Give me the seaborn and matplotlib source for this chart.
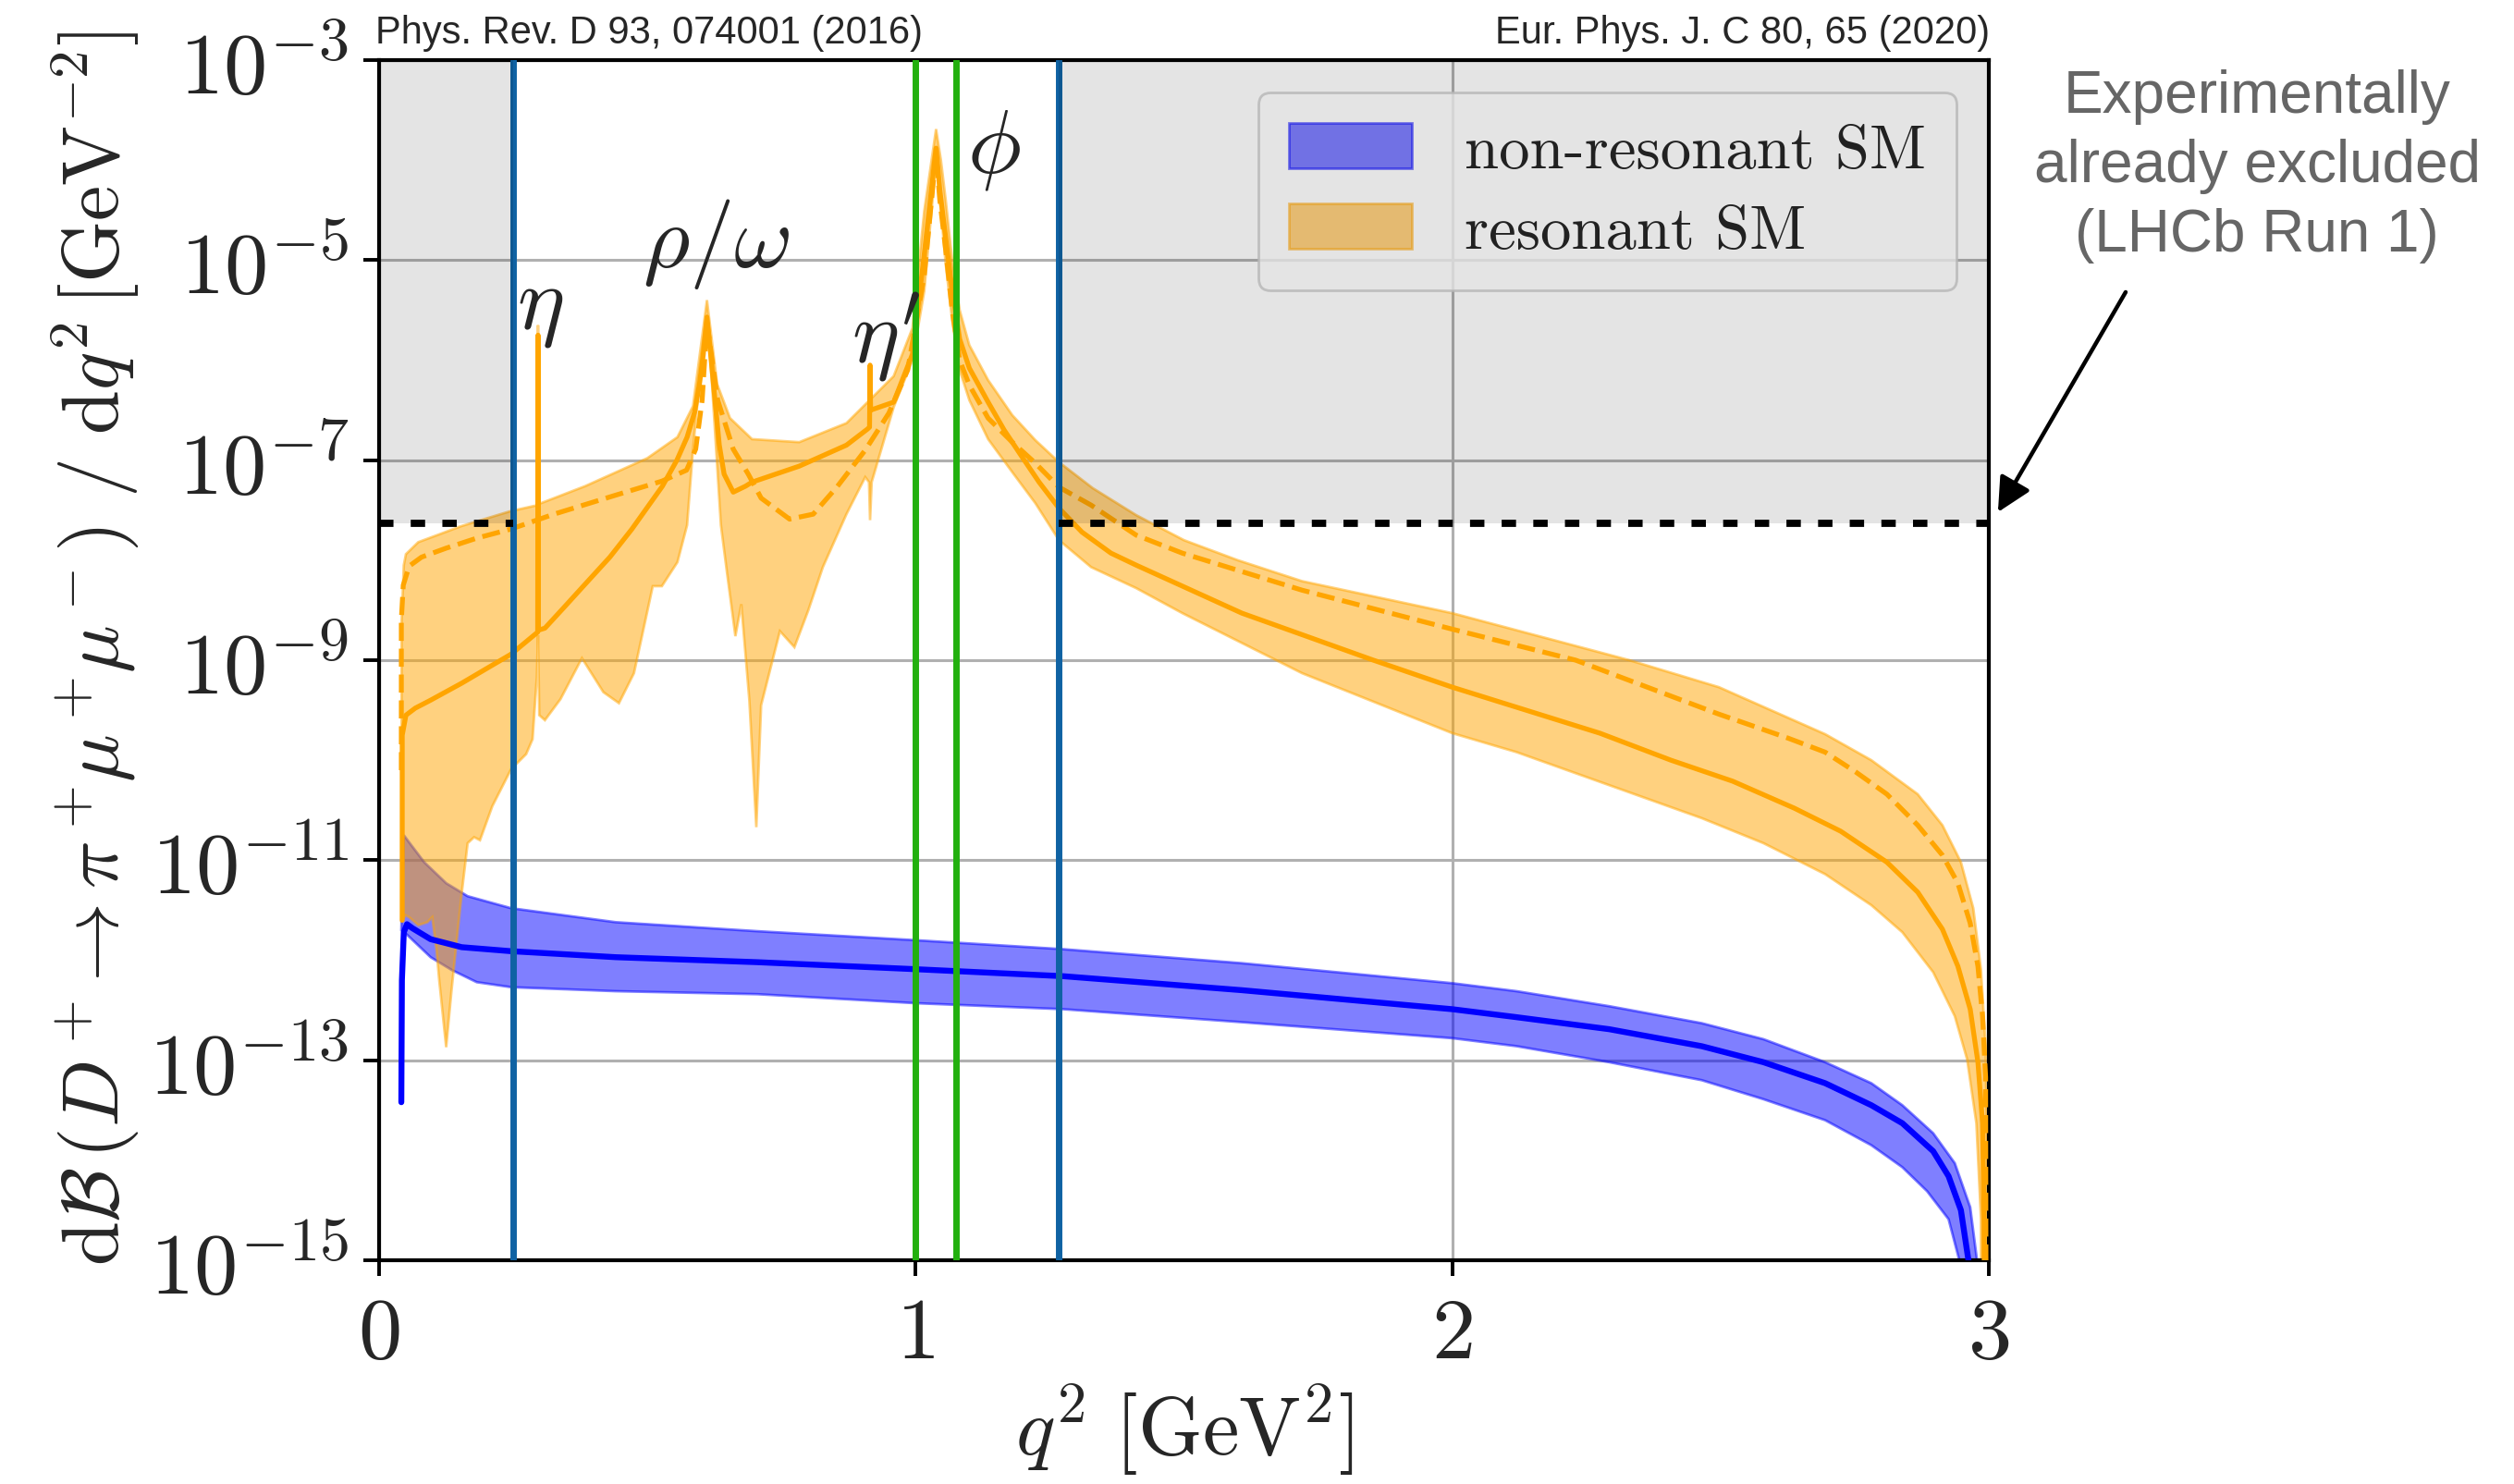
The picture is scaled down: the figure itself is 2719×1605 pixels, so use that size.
import numpy as np
import matplotlib
matplotlib.use("Agg")
import matplotlib.pyplot as plt
from matplotlib.ticker import FixedLocator, FuncFormatter, NullLocator
import seaborn as sns

# ---------------- data ----------------
# resonant SM, central value (solid)
res_x = [0.0431, 0.0431, 0.050, 0.0673, 0.096, 0.154, 0.211, 0.246, 0.291, 0.2955, 0.2962, 0.2970,
         0.309, 0.345, 0.384, 0.430, 0.471, 0.528, 0.555, 0.574, 0.588, 0.597, 0.604, 0.611, 0.618,
         0.626, 0.634, 0.643, 0.660, 0.683, 0.695, 0.783, 0.871, 0.910, 0.9140, 0.9150, 0.9160,
         0.959, 0.994, 1.016, 1.038, 1.045, 1.056, 1.068, 1.082, 1.100, 1.135, 1.165, 1.196, 1.230,
         1.267, 1.310, 1.364, 1.411, 1.608, 1.853, 2.000, 2.275, 2.4075, 2.5225, 2.6375, 2.7238,
         2.810, 2.8675, 2.9135, 2.9423, 2.9653, 2.9797, 2.9883, 2.9912, 2.992]
res_logy = [-11.60, -9.75, -9.55, -9.48, -9.40, -9.23, -9.05, -8.94, -8.74, -8.72, -5.75, -8.70,
            -8.68, -8.47, -8.24, -7.97, -7.69, -7.26, -7.00, -6.77, -6.52, -6.24, -5.95, -5.57, -5.95,
            -6.40, -6.85, -7.14, -7.32, -7.26, -7.22, -7.06, -6.85, -6.69, -6.67, -6.05, -6.50,
            -6.42, -5.94, -4.94, -3.88, -4.30, -4.78, -5.30, -5.79, -6.08, -6.42, -6.70, -6.95, -7.22,
            -7.48, -7.72, -7.93, -8.05, -8.53, -9.00, -9.27, -9.73, -10.00, -10.21, -10.48, -10.71,
            -11.02, -11.32, -11.69, -12.06, -12.49, -13.02, -13.63, -14.59, -16.0]

# resonant SM, alternative (dashed)
res2_x = [0.0414, 0.0414, 0.045, 0.056, 0.079, 0.125, 0.182, 0.245, 0.326, 0.441, 0.527, 0.573,
          0.590, 0.602, 0.611, 0.631, 0.660, 0.688, 0.712, 0.765, 0.809, 0.853, 0.906, 0.950,
          0.985, 1.016, 1.038, 1.045, 1.056, 1.068, 1.082, 1.100, 1.135, 1.180, 1.223, 1.267,
          1.327, 1.411, 1.497, 1.720, 2.000, 2.230, 2.497, 2.626, 2.695, 2.7525, 2.810, 2.8675,
          2.9135, 2.9423, 2.9653, 2.9797, 2.9883, 2.994, 2.995]
res2_logy = [-10.10, -8.60, -8.25, -8.06, -7.97, -7.88, -7.78, -7.69, -7.54, -7.35, -7.21, -7.10,
             -6.89, -6.40, -5.63, -6.40, -6.89, -7.14, -7.38, -7.59, -7.54, -7.27, -6.90, -6.53,
             -6.10, -5.15, -3.93, -4.40, -4.90, -5.50, -6.00, -6.25, -6.58, -6.82, -7.03, -7.27,
             -7.45, -7.75, -7.93, -8.30, -8.69, -9.00, -9.54, -9.78, -9.92, -10.12, -10.34, -10.65,
             -10.95, -11.23, -11.63, -12.06, -12.56, -13.17, -16.0]

# resonant SM band, upper edge
res_up_x = [0.0414, 0.0420, 0.046, 0.050, 0.073, 0.153, 0.245, 0.2955, 0.2962, 0.2970, 0.384, 0.500,
            0.556, 0.585, 0.611, 0.630, 0.654, 0.695, 0.783, 0.871, 0.959, 0.994, 1.016, 1.038,
            1.047, 1.056, 1.068, 1.082, 1.100, 1.135, 1.180, 1.223, 1.267, 1.330, 1.411, 1.500,
            1.600, 1.720, 2.000, 2.330, 2.497, 2.695, 2.781, 2.8675, 2.9135, 2.948, 2.971, 2.9854,
            2.994, 2.9986, 2.999]
res_up_logy = [-11.60, -8.60, -8.05, -7.94, -7.82, -7.66, -7.51, -7.45, -5.65, -7.44, -7.26, -6.98,
               -6.77, -6.46, -5.40, -6.24, -6.58, -6.79, -6.82, -6.63, -6.16, -5.68, -4.51, -3.69,
               -4.00, -4.40, -5.00, -5.50, -5.85, -6.20, -6.55, -6.80, -7.02, -7.28, -7.55, -7.80,
               -8.00, -8.21, -8.53, -9.00, -9.27, -9.74, -10.00, -10.34, -10.65, -11.02, -11.48,
               -12.09, -12.86, -14.59, -16.0]

# resonant SM band, lower edge
res_lo_x = [0.0414, 0.049, 0.056, 0.073, 0.090, 0.099, 0.107, 0.112, 0.125, 0.135, 0.142, 0.154,
            0.165, 0.177, 0.188, 0.211, 0.246, 0.274, 0.286, 0.294, 0.2962, 0.2985, 0.309, 0.338,
            0.378, 0.418, 0.447, 0.475, 0.510, 0.527, 0.556, 0.574, 0.585, 0.602, 0.611, 0.620,
            0.637, 0.648, 0.664, 0.675, 0.690, 0.703, 0.712, 0.747, 0.774, 0.800, 0.827, 0.871,
            0.906, 0.913, 0.915, 0.918, 0.959, 0.994, 1.016, 1.038, 1.047, 1.056, 1.068, 1.082,
            1.100, 1.135, 1.180, 1.223, 1.267, 1.327, 1.411, 1.497, 1.720, 2.000, 2.120, 2.2925,
            2.465, 2.580, 2.695, 2.781, 2.8388, 2.8963, 2.9366, 2.9595, 2.9768, 2.9854, 2.986]
res_lo_logy = [-11.62, -11.55, -11.57, -11.65, -11.62, -11.57, -11.90, -12.20, -12.87, -12.30, -11.94,
               -11.33, -10.83, -10.77, -10.80, -10.46, -10.09, -9.94, -9.79, -9.17, -8.75, -9.55,
               -9.60, -9.39, -8.98, -9.32, -9.43, -9.13, -8.26, -8.26, -8.02, -7.65, -6.89, -5.94,
               -5.55, -6.20, -7.65, -8.11, -8.76, -8.44, -9.40, -10.67, -9.45, -8.71, -8.87, -8.50,
               -8.07, -7.54, -7.17, -7.22, -7.60, -7.22, -6.47, -6.00, -5.31, -4.00, -4.50, -5.04,
               -5.60, -6.10, -6.40, -6.79, -7.12, -7.43, -7.80, -8.07, -8.28, -8.53, -9.13, -9.73,
               -9.92, -10.25, -10.58, -10.83, -11.14, -11.45, -11.72, -12.12, -12.56, -12.99,
               -13.63, -14.59, -16.0]

# non-resonant SM, central value
nr_x = [0.0414, 0.0425, 0.046, 0.052, 0.062, 0.096, 0.154, 0.246, 0.441, 0.705, 1.000, 1.275,
        1.608, 2.000, 2.120, 2.2925, 2.465, 2.580, 2.695, 2.781, 2.8388, 2.8963, 2.925, 2.948,
        2.962, 2.966]
nr_logy = [-13.42, -12.20, -11.72, -11.64, -11.68, -11.79, -11.87, -11.91, -11.97, -12.02, -12.09,
           -12.16, -12.30, -12.49, -12.57, -12.69, -12.86, -13.02, -13.23, -13.45, -13.63, -13.91,
           -14.16, -14.50, -15.00, -15.50]

# non-resonant SM band edges
nr_up_x = [0.0414, 0.046, 0.060, 0.084, 0.125, 0.165, 0.246, 0.441, 0.705, 1.000, 1.275, 1.608,
           2.000, 2.120, 2.2925, 2.465, 2.580, 2.695, 2.781, 2.8388, 2.8963, 2.9366, 2.9653,
           2.978, 2.981]
nr_up_logy = [-11.70, -10.75, -10.85, -11.02, -11.23, -11.36, -11.48, -11.62, -11.71, -11.80, -11.89,
              -12.03, -12.23, -12.31, -12.46, -12.63, -12.79, -13.02, -13.23, -13.45, -13.73, -14.03,
              -14.47, -15.00, -15.30]
nr_lo_x = [0.0414, 0.049, 0.096, 0.136, 0.182, 0.246, 0.441, 0.705, 1.000, 1.275, 1.608, 2.000,
           2.120, 2.2925, 2.465, 2.580, 2.695, 2.781, 2.8388, 2.885, 2.925, 2.945, 2.948]
nr_lo_logy = [-11.70, -11.73, -11.97, -12.10, -12.22, -12.27, -12.31, -12.34, -12.43, -12.49, -12.62,
              -12.78, -12.86, -13.02, -13.20, -13.39, -13.60, -13.85, -14.07, -14.31, -14.59, -15.00,
              -15.30]

# experimental information
lhcb_limit = 2.35e-8
excluded_windows = [(0.0, 0.25), (1.267, 3.0)]
veto_edges_blue = [0.25, 1.267]
veto_edges_green = [1.0, 1.075]
resonance_labels = [r"$\eta$", r"$\rho/\omega$", r"$\eta'$", r"$\phi$"]
resonance_pos = [(0.300, 10**-5.45), (0.628, 10**-4.83), (0.945, 10**-5.76), (1.146, 10**-3.88)]
y_ticks = [1e-15, 1e-13, 1e-11, 1e-9, 1e-7, 1e-5, 1e-3]
x_ticks = [0, 1, 2, 3]

# ---------------- styling ----------------
sns.set_style("white")
plt.rcParams["mathtext.fontset"] = "cm"
plt.rcParams["font.family"] = ["DejaVu Sans"]

DPI = 200
fig = plt.figure(figsize=(2719 / DPI, 1606 / DPI), dpi=DPI)
ax = fig.add_axes([0.1508, 0.1507, 0.6403, 0.8082])
ax.set_yscale("log")

ORANGE = "#FFA500"
BLUE = "#0000FF"

def pw(lst):
    return [10.0 ** v for v in lst]

# bands (blue first, orange over it)
nr_band = ax.fill(nr_up_x + nr_lo_x[::-1], pw(nr_up_logy + nr_lo_logy[::-1]),
                  facecolor=BLUE, edgecolor=BLUE, alpha=0.5, lw=1.0, zorder=2,
                  label="non-resonant SM")[0]
res_band = ax.fill(res_up_x + res_lo_x[::-1], pw(res_up_logy + res_lo_logy[::-1]),
                   facecolor=ORANGE, edgecolor=ORANGE, alpha=0.5, lw=1.0, zorder=2.1,
                   label="resonant SM")[0]

# central lines
sns.lineplot(x=nr_x, y=pw(nr_logy), ax=ax, color=BLUE, lw=2.3, sort=False,
             estimator=None, zorder=3, legend=False)
sns.lineplot(x=res2_x, y=pw(res2_logy), ax=ax, color=ORANGE, lw=1.9, sort=False,
             estimator=None, zorder=3, linestyle="--", legend=False)
sns.lineplot(x=res_x, y=pw(res_logy), ax=ax, color=ORANGE, lw=1.9, sort=False,
             estimator=None, zorder=3.1, legend=False)

# veto windows
for xv in veto_edges_blue:
    ax.axvline(xv, color="#0F62A3", lw=2.5, zorder=4)
for xv in veto_edges_green:
    ax.axvline(xv, color="#22B00E", lw=2.5, zorder=4)

ax.set_xlim(0, 3)
ax.set_ylim(1e-15, 1e-3)

# legend
leg = ax.legend(handles=[nr_band, res_band], loc="upper right",
                prop={"family": "cmr10", "size": 24}, handlelength=2.0,
                handleheight=0.75, handletextpad=0.85, borderaxespad=0.52,
                labelspacing=0.4, borderpad=0.5,
                fancybox=True, framealpha=0.8, edgecolor="#cccccc")
leg.set_zorder(5)

# excluded region (semi-transparent grey overlay) and limit line
for (x0, x1) in excluded_windows:
    ax.fill_between([x0, x1], [lhcb_limit, lhcb_limit], [1e-3, 1e-3], color="black",
                    alpha=0.105, lw=0, zorder=6)
    ax.plot([x0, x1], [lhcb_limit, lhcb_limit], color="black", lw=2.8,
            dashes=(2.0, 2.4), zorder=7)

# resonance labels
for lab, (xx, yy) in zip(resonance_labels, resonance_pos):
    ax.text(xx, yy, lab, fontsize=35, ha="center", va="center", zorder=8)

# axes / ticks
ax.yaxis.set_major_locator(FixedLocator(y_ticks))
ax.yaxis.set_minor_locator(NullLocator())
ax.yaxis.set_major_formatter(FuncFormatter(lambda v, p: r"$10^{%d}$" % int(round(np.log10(v)))))
ax.xaxis.set_major_locator(FixedLocator(x_ticks))
ax.xaxis.set_major_formatter(FuncFormatter(lambda v, p: r"$%d$" % int(round(v))))
ax.tick_params(axis="both", which="major", direction="out", length=6, width=1.4,
               labelsize=34, pad=6, color="black", left=True, bottom=True)
for s in ax.spines.values():
    s.set_color("black")
    s.set_linewidth(1.5)
ax.grid(True, which="major", color="#b0b0b0", lw=1.1)
ax.set_axisbelow(True)

ax.set_xlabel(r"$q^2\ [\mathrm{GeV}^2]$", fontsize=32, labelpad=2)
ax.set_ylabel(r"$\mathrm{d}\mathcal{B}\,(D^+\!\to\pi^+\!\mu^+\!\mu^-)\ /\ \mathrm{d}q^2\,[\mathrm{GeV}^{-2}]$",
              fontsize=31)
ax.yaxis.set_label_coords(-0.148, 0.511)

# references
fig.text(0.1493, 0.9707, "Phys. Rev. D 93, 074001 (2016)", family="Liberation Sans",
         fontsize=15, ha="left", va="baseline")
fig.text(0.7915, 0.9707, "Eur. Phys. J. C 80, 65 (2020)", family="Liberation Sans",
         fontsize=15, ha="right", va="baseline")

# annotation
fig.text(0.8978, 0.8877, "Experimentally\nalready excluded\n(LHCb Run 1)",
         family="Liberation Sans", fontsize=23, color="#666666", ha="center", va="center",
         multialignment="center", linespacing=1.32)
ax.annotate("", xy=(3.017, 10**-7.52), xytext=(3.255, 10**-5.32), xycoords="data",
            textcoords="data", annotation_clip=False,
            arrowprops=dict(arrowstyle="-|>", color="black", lw=1.6, mutation_scale=28,
                            shrinkA=0, shrinkB=0))

fig.savefig("out.png", dpi=DPI)
